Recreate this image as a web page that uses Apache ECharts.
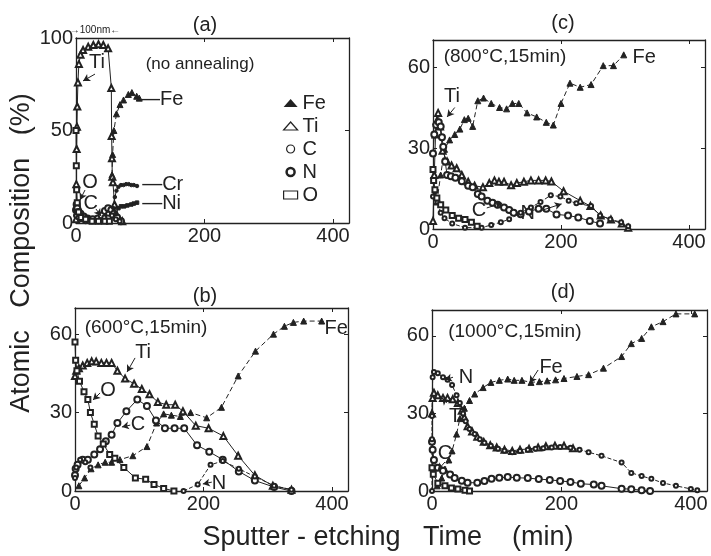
<!DOCTYPE html>
<html>
<head>
<meta charset="utf-8">
<script src="https://cdn.jsdelivr.net/npm/echarts@6/dist/echarts.min.js"></script>
<style>
  html, body { margin: 0; padding: 0; background: #fff; }
  #chart { width: 711px; height: 556px; }
</style>
</head>
<body>
<div id="chart"></div>
<script>
// (a) no annealing  [time (min), atomic %]
const aFe = [[56,26],[57,37],[59,50],[63,59],[68.5,64],[74,66.5],[81.5,69.5],[87,70.5],[94.5,68.5],[98.5,67.5]]
const aTi = [[0,2],[0.5,21],[1,40],[1.5,52],[2,63],[3,76],[4.5,86],[7,91],[11,93.5],[19,95.3],[27,96.2],[35,96.6],[42.5,96.2],[50,94.4],[55,73],[55.5,47],[56,35],[56.5,25],[57.5,22],[60,10],[64,4],[72,1]]
const aC = [[0,7],[1,10],[2,8],[4,6],[7,5],[12,3.5],[18,2.5],[26,2],[34,2.5],[40,4],[45,6.5],[50,8],[55,7],[59,5],[64,3],[70,1]]
const aN = [[0,4],[1.5,6],[4,3],[8,2],[15,1],[25,1],[35,1],[44,3],[50,5],[56,4],[62,2],[68,1]]
const aO = [[0,50],[0.5,31],[1,18],[2,11],[4,6],[8,3],[15,2],[25,1],[35,1],[45,1],[52,1]]
const aCr = [[58,8],[60.5,14],[63,17.5],[66,19.5],[70,20.5],[74,20.5],[78,21],[82,21],[86,20.5],[90,20.5],[95,20]]
const aNi = [[62,5],[66,8],[70,9],[75,9],[80,9.5],[86,10],[90,10.5],[95,11]]

// (b) 600 C, 15 min
const bFe = [[6,2],[15,5],[25,8.5],[36,10],[47,11],[57,11],[70,12],[90,13.5],[112,17],[127,26],[138,29.5],[150,29],[164,28.5],[180,30],[205,28],[228,32],[254,44],[281,53.5],[309,60],[326,63],[340,64.5],[356,65],[384,65]]
const bTi = [[0,44],[2,46],[6,47],[12,48],[19,49],[26,49.6],[33,49.5],[41,49],[49,49],[57,49],[66,46],[78,43],[92,41],[104,39],[116,37],[129,34],[142,33],[156,33],[168,30.5],[188,25],[208,24],[231,21],[254,13.5],[280,6],[308,2],[337,0.5]]
const bC = [[0,6],[1,8.5],[4,10],[12,12],[20,12],[30,14],[39,16],[48,19],[57,21.5],[66,26],[80,30.5],[97,35],[112,32.5],[126,27],[140,24],[155,24],[170,24],[190,17.5],[209,15],[230,12],[255,7.5],[280,4],[310,1.5],[337,0]]
const bN = [[0,5],[2,9],[8,12],[16,11],[24,9],[100,null],[169,0],[191,2.5],[211,10],[230,11.5],[255,8.5],[280,5.5],[310,2],[337,0.5]]
const bO = [[0,57],[1,50],[3,46],[7,42],[14,38],[20,35],[24,30],[30,25.5],[36,21],[44,18],[54,14],[62,12.5],[76,9],[94,5],[110,4.5],[123,2.5],[138,1],[154,0]]

// (c) 800 C, 15 min
const cFe = [[6,10],[12,20],[18,29.5],[26,33],[34,35],[42,37],[49,40.5],[55,41],[62,38],[70,47.5],[79,48.5],[91,46.5],[104,45],[115,44.5],[124,46.5],[134,46.5],[147,43],[162,41.5],[177,39.5],[188,38.5],[200,46.5],[214,54],[230,52.5],[247,53.5],[266,60.5],[282,60.5],[298,64.5]]
const cTi = [[0,3],[2,20],[4,35],[6,40],[8,43],[11,38],[15,29],[22,25],[29,23.5],[37,22.5],[45,20],[55,17.5],[65,16],[78,15.5],[88,17],[96,18],[103,17.5],[111,17.5],[122,16.2],[131,17],[142,17.5],[153,18],[165,18],[176,18],[185,17.6],[204,14],[230,10.5],[246,8.5],[262,5],[278,3.5],[295,2],[305,0.5]]
const cC = [[0,28],[2,35],[5,38.5],[9,39.5],[12,38],[14,34],[16,30.5],[19,25],[22,20],[28,19.5],[35,19],[45,17.7],[55,16],[62,15.5],[70,13],[76,12],[85,10.5],[93,9.7],[101,9],[111,8],[119,7],[126,6],[137,5.5],[150,6.5],[165,7.5],[177,7.5],[193,5.4],[211,5],[227,4.3],[245,3],[261,2]]
const cN = [[0,12],[3,14],[7,10],[12,6],[18,4],[30,2],[50,0.5],[76,0.5],[91,1.5],[106,2.5],[119,3.6],[137,6],[153,8],[168,10],[184,12.5],[199,12],[212,10.5],[224,9.5],[247,8.5],[261,5],[277,3.6],[294,2.5],[305,1]]
const cO = [[0,22],[1,18],[3,14.5],[6,11.5],[12,9],[20,7],[30,5],[40,4],[50,3.5],[60,2.5],[69,1]]

// (d) 1000 C, 15 min
const dFe = [[8,2],[15,5],[20,8.5],[26,12],[31,15.5],[38,22],[43,28],[50,32],[58,35],[66,37.5],[79,40],[91,42],[104,42.8],[117,43.3],[127,42.8],[139,42.8],[153,42],[166,42.3],[178,42.6],[191,43],[204,43.5],[224,44.3],[242,45],[265,47.5],[293,52],[308,57],[324,59],[339,63.5],[357,65.5],[377,68.5],[406,68.5]]
const dTi = [[0,30],[1,36],[3,38],[9,37],[17,36],[24,36],[32,35.5],[40,34],[46,31],[50,28.5],[55,25],[62,23],[70,21],[80,19],[90,17.7],[100,16.8],[112,16],[124,15.5],[136,16],[150,16.3],[164,16.8],[176,17.3],[190,17.5],[204,17.5],[218,16.5]]
const dC = [[0,19],[1,16],[3,12],[9,9],[17,7.8],[28,6.4],[35,5],[46,4],[55,3.2],[70,3.2],[81,3.9],[92,4.7],[104,5.1],[117,5.4],[131,5.1],[148,5],[165,4.6],[182,4.3],[198,3.9],[214,3.5],[230,2.8],[250,2.5],[262,2],[293,0.9],[308,0.7],[324,0.3],[337,0]]
const dN = [[0,0],[0,20],[0,29],[1,44],[3,46],[9,45.5],[17,44],[24,43],[31,41],[38,37],[43,34],[48,30],[52,27],[58,24],[66,22],[74,20],[81,18.7],[91,17.5],[102,16.3],[112,15.6],[124,15],[136,15.5],[148,16],[160,16.3],[172,16.5],[185,16.8],[198,17],[214,16.7],[228,16],[242,15],[262,13.6],[293,11],[308,7],[324,5.8],[339,4.7],[357,3.1],[377,2],[400,0.8],[410,0.3]]
const dO = [[0,9],[2,6.5],[9,3],[20,2],[30,1.2],[40,0.8],[51,0.3],[58,0]]

const legendNames = ['Fe', 'Ti', 'C', 'N', 'O']

const ink = '#222'
const font = 'Liberation Sans'

// panel order: a, b, c, d
const panels = [
  { grid: { left: 76, top: 38, width: 273, height: 185 }, ymax: 100, yint: 50, title: '(a)', tx: 205, ty: 25,
    series: { Fe: aFe, Ti: aTi, C: aC, N: aN, O: aO, Cr: aCr, Ni: aNi } },
  { grid: { left: 75, top: 308, width: 273, height: 183 }, ymax: 70, yint: 30, title: '(b)', tx: 205, ty: 296,
    series: { Fe: bFe, Ti: bTi, C: bC, N: bN, O: bO } },
  { grid: { left: 433, top: 40, width: 272, height: 189 }, ymax: 70, yint: 30, title: '(c)', tx: 563, ty: 23,
    series: { Fe: cFe, Ti: cTi, C: cC, N: cN, O: cO } },
  { grid: { left: 432, top: 310, width: 275, height: 181 }, ymax: 70, yint: 30, title: '(d)', tx: 563, ty: 292,
    series: { Fe: dFe, Ti: dTi, C: dC, N: dN, O: dO } }
]

const marks = {
  Fe: { symbol: 'triangle', size: 6, line: [5, 3] },
  Ti: { symbol: 'emptyTriangle', size: 6, line: 'solid' },
  C: { symbol: 'emptyCircle', size: 6, line: 'solid' },
  N: { symbol: 'emptyCircle', size: 4, line: [4, 2], border: 1.8 },
  O: { symbol: 'emptyRect', size: 5, line: 'solid' },
  Cr: { symbol: 'circle', size: 3.5, line: 'solid' },
  Ni: { symbol: 'rect', size: 3.5, line: 'solid' }
}

// labels and arrows, in data units of each panel
const notes = [
  [0, 'Ti', 32.7, 87, 'center', 20], [0, '—Fe', 99.6, 67, 'left', 20], [0, '—Cr', 103, 21, 'left', 20],
  [0, '—Ni', 103, 10.8, 'left', 20], [0, 'O', 21.8, 22, 'center', 20], [0, 'C', 23, 10.8, 'center', 20],
  [0, '(no annealing)', 193, 86, 'center', 17], [0, '→100nm←', 29.6, 104, 'center', 10],
  [1, 'Ti', 106, 52.8, 'center', 20], [1, 'O', 51.4, 38.3, 'center', 20], [1, 'C', 98, 25.6, 'center', 20],
  [1, 'N', 224, 3, 'center', 20], [1, 'Fe', 406.5, 62, 'center', 20], [1, '(600°C,15min)', 110.6, 62.4, 'center', 19],
  [2, 'Ti', 29.7, 48.9, 'center', 20], [2, 'Fe', 330, 63.7, 'center', 20], [2, 'C', 72, 6.7, 'center', 20],
  [2, 'N', 148, 5.6, 'center', 20], [2, '(800°C,15min)', 112.5, 63.7, 'center', 19],
  [3, 'N', 52.5, 44, 'center', 20], [3, 'Ti', 38.6, 29, 'center', 20], [3, 'C', 20, 14.7, 'center', 20],
  [3, 'Fe', 184, 47.6, 'center', 20], [3, '(1000°C,15min)', 128, 61.5, 'center', 19]
]
const arrows = [
  [0, [29.6, 80.5], [10.9, 76.8]], [0, [14, 17.8], [6.2, 12.4]], [0, [31, 7.6], [39, 3.8]],
  [1, [93.5, 50.9], [81, 45.5]], [1, [39, 37.5], [28, 34.8]], [1, [86, 25.2], [73, 24.5]], [1, [213, 3.4], [199, 2.7]],
  [2, [34, 45], [22, 41.5]], [2, [84, 7.8], [108, 9.6]], [2, [162, 6.3], [201, 9.3]],
  [3, [32.5, 44], [20, 43]], [3, [23, 34], [15.5, 36]], [3, [20, 11.2], [9, 8.1]], [3, [164, 46.8], [151, 41.8]]
]

const chart = echarts.init(document.getElementById('chart'))

const grids = [], xAxes = [], yAxes = [], series = []
panels.forEach((p, i) => {
  grids.push(p.grid)
  const axisLine = { onZero: false, lineStyle: { color: ink, width: 1.3 } }
  const tick = { inside: true, length: 4, lineStyle: { color: ink } }
  xAxes.push({ type: 'value', gridIndex: i, position: 'bottom', min: 0, max: 425, interval: 200, axisLine, axisTick: tick,
    axisLabel: { color: ink, fontSize: 20, fontFamily: font, margin: 3, showMaxLabel: false }, splitLine: { show: false } })
  xAxes.push({ type: 'value', gridIndex: i, position: 'top', min: 0, max: 425, interval: 200, axisLine, axisTick: tick,
    axisLabel: { show: false }, splitLine: { show: false } })
  yAxes.push({ type: 'value', gridIndex: i, position: 'left', min: 0, max: p.ymax, interval: p.yint, axisLine, axisTick: tick,
    axisLabel: { color: ink, fontSize: 20, fontFamily: font, margin: 3, showMaxLabel: p.ymax === 100 }, splitLine: { show: false } })
  yAxes.push({ type: 'value', gridIndex: i, position: 'right', min: 0, max: p.ymax, interval: p.yint, axisLine, axisTick: tick,
    axisLabel: { show: false }, splitLine: { show: false } })

  Object.keys(p.series).forEach(name => {
    const m = marks[name]
    const s = {
      name, type: 'line', xAxisIndex: 2 * i, yAxisIndex: 2 * i, data: p.series[name],
      symbol: m.symbol, symbolSize: m.size, showAllSymbol: true, connectNulls: false,
      lineStyle: { color: ink, width: 1, type: m.line },
      itemStyle: { color: ink, borderColor: ink, borderWidth: m.border || 1 },
      emphasis: { disabled: true }, animation: false
    }
    if (name === 'Fe') {
      s.markLine = {
        silent: true, symbol: ['none', 'arrow'], symbolSize: [6, 7], animation: false,
        label: { show: false }, lineStyle: { color: ink, width: 1, type: 'solid' },
        data: arrows.filter(a => a[0] === i).map(a => [{ coord: a[1] }, { coord: a[2] }])
      }
    }
    series.push(s)
  })
})

const open = { color: '#fff', borderColor: ink, borderWidth: 1.2 }
chart.setOption({
  backgroundColor: '#fff',
  animation: false,
  grid: grids,
  xAxis: xAxes,
  yAxis: yAxes,
  legend: {
    left: 278, top: 88, orient: 'vertical', selectedMode: false,
    itemWidth: 14, itemHeight: 8, itemGap: 3,
    textStyle: { color: ink, fontSize: 20, fontFamily: font, lineHeight: 17 },
    data: [
      { name: legendNames[0], icon: 'triangle', itemStyle: { color: ink, borderWidth: 0 } },
      { name: legendNames[1], icon: 'triangle', itemStyle: open },
      { name: legendNames[2], icon: 'circle', itemStyle: open },
      { name: legendNames[3], icon: 'circle', itemStyle: { color: '#fff', borderColor: ink, borderWidth: 2.5 } },
      { name: legendNames[4], icon: 'rect', itemStyle: open }
    ]
  },
  series
})

const txt = (text, x, y, size, align, rot) => ({
  type: 'text', x, y, rotation: rot || 0, silent: true,
  style: { text, fill: ink, fontSize: size, fontFamily: font,
    textAlign: align, align, textVerticalAlign: 'middle', verticalAlign: 'middle' }
})

const graphics = []
panels.forEach(p => graphics.push(txt(p.title, p.tx, p.ty, 20, 'center')))
notes.forEach(n => {
  const pt = chart.convertToPixel({ xAxisIndex: 2 * n[0], yAxisIndex: 2 * n[0] }, [n[2], n[3]])
  graphics.push(txt(n[1], pt[0], pt[1], n[5], n[4]))
})
graphics.push(txt('Atomic   Composition   (%)', 22, 253, 27, 'center', Math.PI / 2))
graphics.push(txt('Sputter - etching   Time    (min)', 388, 538, 27, 'center'))

chart.setOption({ graphic: graphics })
</script>
</body>
</html>
